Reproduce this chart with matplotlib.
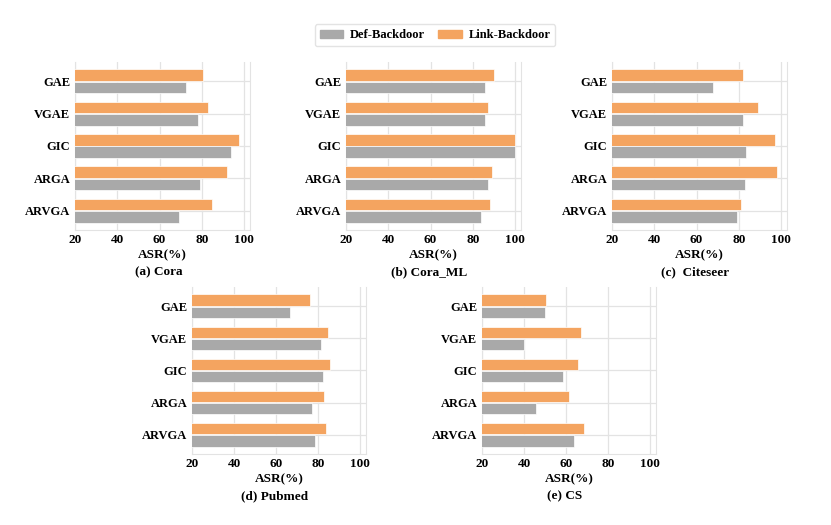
import numpy as np
import matplotlib.pyplot as plt
from matplotlib.patches import Patch

plt.rcParams['font.family'] = ['Liberation Serif', 'DejaVu Serif']
plt.rcParams['font.weight'] = 'bold'

models = ['GAE', 'VGAE', 'GIC', 'ARGA', 'ARVGA']
datasets = ['(a) Cora', '(b) Cora_ML', '(c)  Citeseer', '(d) Pubmed', '(e) CS']

# ASR values per dataset, order follows models
def_backdoor = {
    'cora':     [72.6, 78.2, 93.8, 79.3, 69.0],
    'cora_ml':  [86.0, 85.7, 99.8, 87.4, 83.8],
    'citeseer': [68.0, 81.8, 83.2, 83.0, 79.0],
    'pubmed':   [66.7, 81.3, 82.4, 77.2, 78.5],
    'cs':       [50.0, 40.2, 58.6, 45.5, 63.8],
}
link_backdoor = {
    'cora':     [80.6, 82.9, 97.6, 92.0, 84.6],
    'cora_ml':  [90.2, 87.4, 100.0, 88.9, 88.2],
    'citeseer': [82.1, 88.9, 96.9, 98.0, 80.9],
    'pubmed':   [76.1, 84.5, 85.6, 82.6, 83.7],
    'cs':       [50.5, 67.1, 65.5, 61.3, 68.4],
}
keys = ['cora', 'cora_ml', 'citeseer', 'pubmed', 'cs']

gray = '#A9A9A9'
orange = '#F4A460'

W, H = 831, 525
fig = plt.figure(figsize=(W / 100, H / 100), dpi=100)

# axes boxes in pixels: left, top, width, height
boxes = [(75, 62, 175, 168), (346, 62, 175, 168), (612, 62, 175, 168),
         (192, 287, 174, 167), (482, 287, 174, 167)]

y = np.arange(len(models))
h = 0.36
for key, name, (l, t, w, hh) in zip(keys, datasets, boxes):
    ax = fig.add_axes([l / W, 1 - (t + hh) / H, w / W, hh / H])
    ax.barh(y - 0.19, link_backdoor[key], height=h, color=orange,
            edgecolor='white', linewidth=0.5, zorder=3)
    ax.barh(y + 0.19, def_backdoor[key], height=h, color=gray,
            edgecolor='white', linewidth=0.5, zorder=3)
    ax.set_xlim(20, 102.8)
    ax.set_ylim(4.6, -0.6)
    ax.set_xticks([20, 40, 60, 80, 100])
    ax.set_yticks(y)
    ax.set_yticklabels(models, fontsize=9, fontweight='bold')
    ax.tick_params(axis='x', labelsize=9.5, length=0, pad=3)
    ax.tick_params(axis='y', length=0, pad=3.5)
    ax.grid(True, color='#E3E3E3', linewidth=0.9, zorder=0)
    for s in ['left', 'right', 'bottom']:
        ax.spines[s].set_color('#E3E3E3')
    ax.spines['top'].set_visible(False)
    ax.set_xlabel('ASR(%)', fontsize=9.5, fontweight='bold', labelpad=2)
    fig.text((l + w / 2 - 4) / W, 1 - (t + hh + 42) / H, name,
             ha='center', va='center', fontsize=9.5, fontweight='bold')

handles = [Patch(color=gray, label='Def-Backdoor'),
           Patch(color=orange, label='Link-Backdoor')]
fig.legend(handles=handles, loc='center', bbox_to_anchor=(435 / W, 1 - 35 / H),
           ncol=2, frameon=True, fontsize=9, edgecolor='#DDDDDD',
           handlelength=1.9, handleheight=0.6, handletextpad=0.55,
           columnspacing=1.0)

fig.savefig('out.png', dpi=100)
